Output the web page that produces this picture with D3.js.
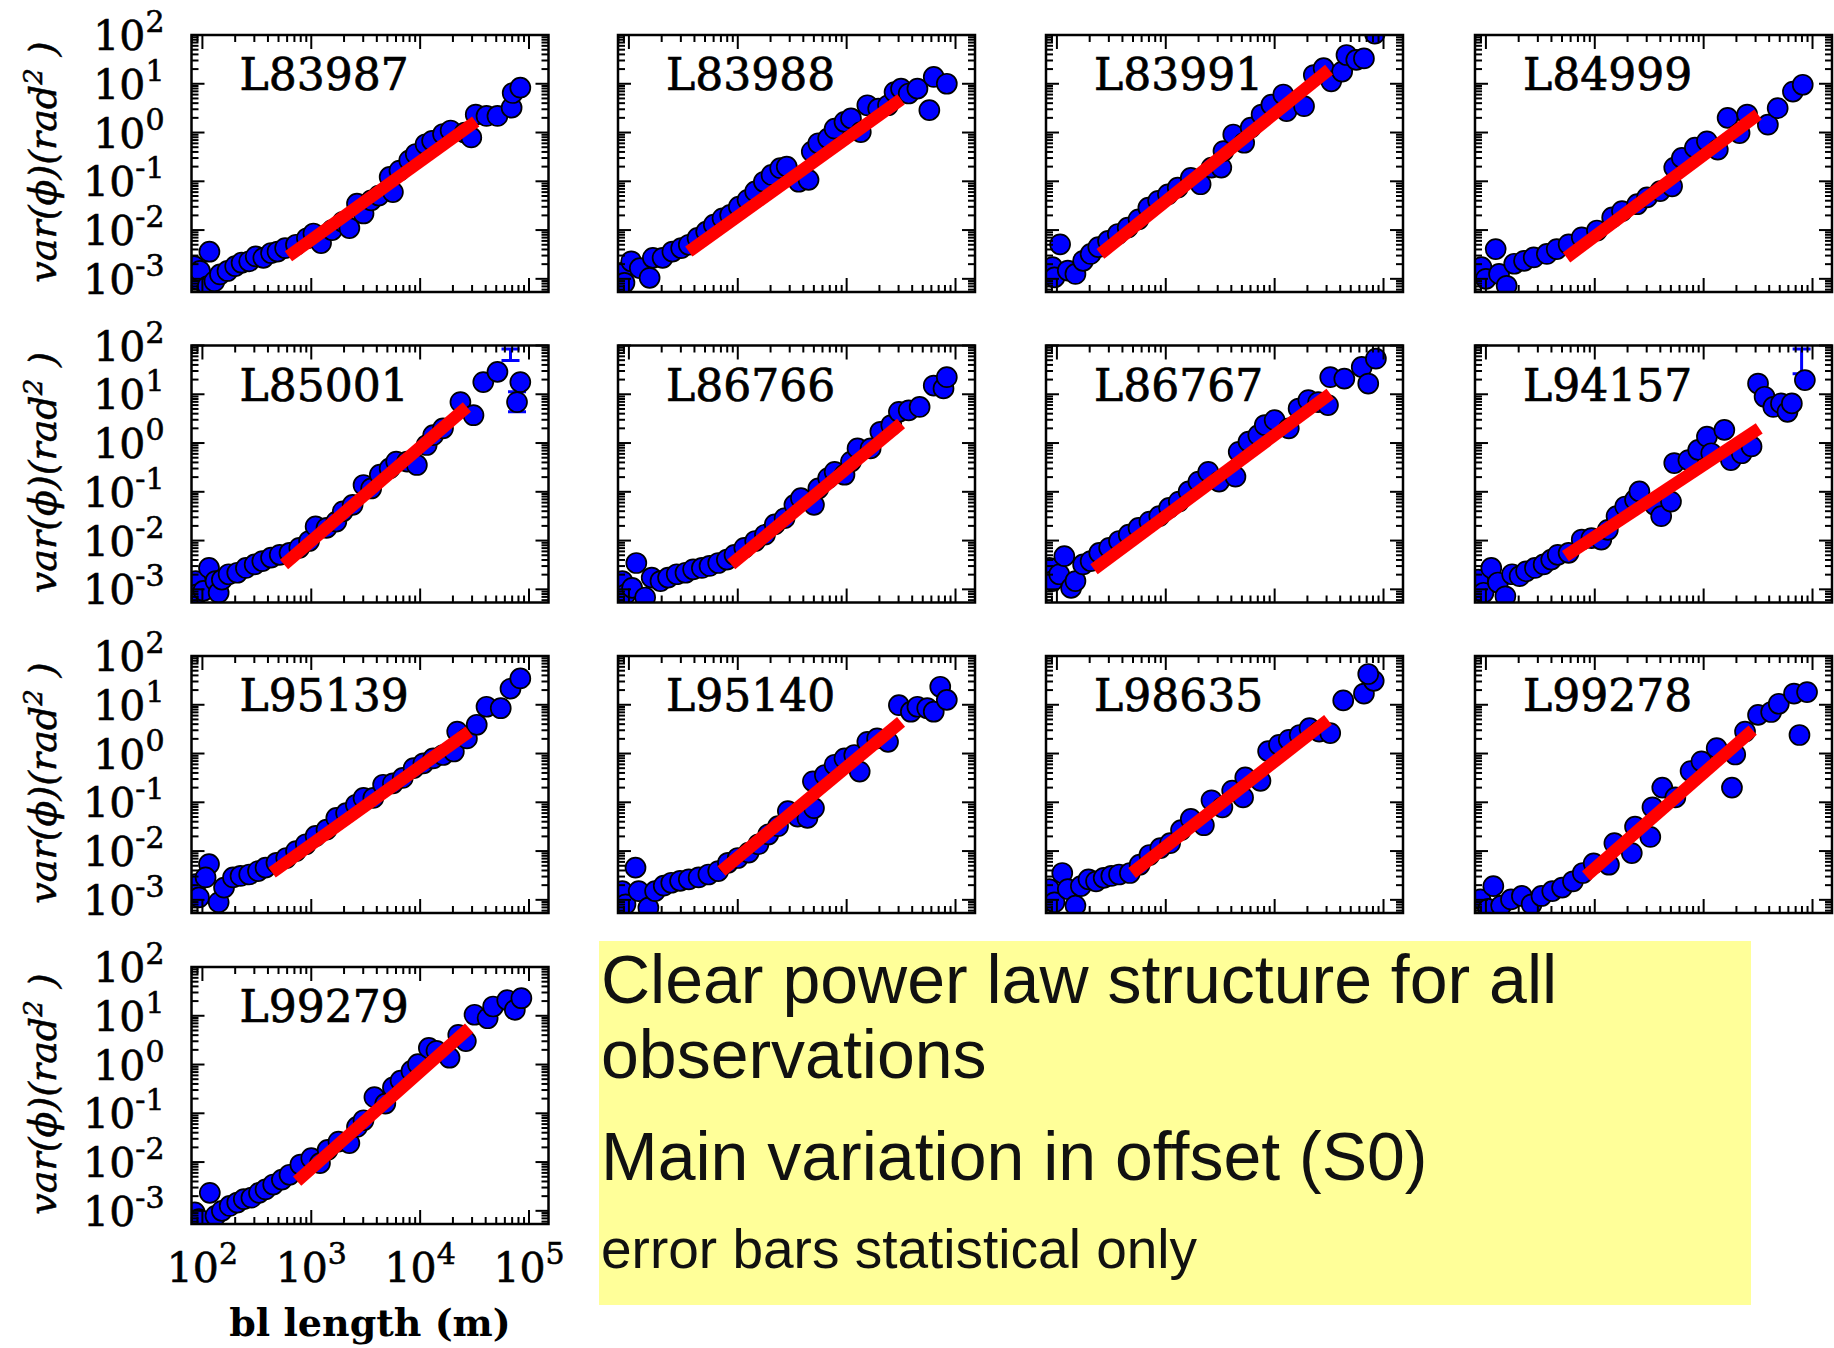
<!DOCTYPE html>
<html><head><meta charset="utf-8">
<script src="https://cdn.jsdelivr.net/npm/d3@7"></script>
<style>html,body{margin:0;padding:0;background:#fff;} svg{display:block}</style>
</head><body>
<svg id="c" width="1834" height="1348"></svg>
<script>
// ---------------- DATA ----------------
const panelNames = ["L83987","L83988","L83991","L84999","L85001","L86766","L86767","L94157","L95139","L95140","L98635","L99278","L99279"];

const pts_L83987 = [[84,1.82e-3],[89,9.8e-4],[95,1.45e-3],[116,3.6e-3],[112,7.1e-4],[129,8.9e-4],[145,1.23e-3],[170,1.45e-3],[200,1.82e-3],[229,2.14e-3],[269,2.29e-3],[309,2.88e-3],[363,2.69e-3],[427,3.39e-3],[490,3.63e-3],[575,4.27e-3],[724,5.0e-3],[912,6.8e-3],[1047,8.5e-3],[1230,5.4e-3],[1549,1.0e-2],[1950,1.48e-2],[2239,1.1e-2],[2630,3.47e-2],[3020,2.19e-2],[3548,4.07e-2],[4169,5.1e-2],[5248,0.123],[5623,6.0e-2],[6457,0.166],[7943,0.269],[9120,0.363],[11220,0.575],[12880,0.676],[16220,0.933],[19050,1.10],[25700,1.0],[29500,0.794],[32400,2.34],[40700,2.19],[51300,2.19],[69200,3.24],[70800,6.46],[83200,8.32]];
const pts_L83988 = [[85,1.32e-3],[91,8.3e-4],[105,2.29e-3],[126,1.66e-3],[155,1.05e-3],[166,2.69e-3],[204,2.69e-3],[251,3.63e-3],[302,4.27e-3],[355,5.0e-3],[427,6.9e-3],[513,9.3e-3],[603,1.29e-2],[724,1.74e-2],[851,2.04e-2],[1023,3.02e-2],[1230,4.17e-2],[1445,6.2e-2],[1738,9.8e-2],[2042,0.135],[2455,0.186],[2818,0.200],[3631,9.8e-2],[4467,0.107],[4786,0.407],[5495,0.603],[6761,0.759],[7762,1.20],[9550,1.66],[10960,1.95],[13490,1.02],[15490,3.63],[19500,3.09],[24000,3.63],[27540,6.76],[31600,7.94],[37150,6.31],[44700,7.94],[57500,2.88],[63100,13.8],[83200,10.0]];
const pts_L83991 = [[91,1.74e-3],[107,5.1e-3],[95,1.07e-3],[126,1.48e-3],[148,1.26e-3],[174,2.34e-3],[204,3.24e-3],[240,4.47e-3],[295,6.0e-3],[363,8.3e-3],[447,1.12e-2],[562,1.66e-2],[692,2.88e-2],[851,3.98e-2],[1047,5.4e-2],[1288,7.4e-2],[1698,0.117],[2089,8.7e-2],[2630,0.191],[3236,0.191],[3388,0.417],[4169,0.912],[5248,0.617],[6026,1.26],[7586,2.34],[9333,3.72],[12020,6.03],[12880,2.75],[18620,3.47],[22900,15.1],[28180,20.9],[33100,11.2],[41700,17.8],[45700,38.9],[56200,30.9],[66100,33.1],[83200,107]];
const pts_L84999 = [[91,1.74e-3],[100,1.0e-3],[123,4.07e-3],[132,1.26e-3],[155,7.2e-4],[182,2.04e-3],[224,2.34e-3],[275,2.75e-3],[363,3.24e-3],[447,4.07e-3],[575,5.1e-3],[759,7.1e-3],[1047,9.8e-3],[1445,1.82e-2],[1778,2.45e-2],[2455,3.39e-2],[3020,4.68e-2],[3981,6.3e-2],[5129,7.9e-2],[5370,0.191],[6310,0.302],[8318,0.490],[10720,0.661],[13490,0.447],[16600,2.0],[21380,0.977],[25100,2.34],[38900,1.45],[47860,3.16],[66100,6.92],[81300,9.55]];
const pts_L85001 = [[87,1.48e-3],[89,7.9e-4],[102,9.3e-4],[115,2.75e-3],[132,1.48e-3],[141,8.5e-4],[151,1.58e-3],[174,2.04e-3],[209,2.19e-3],[251,2.75e-3],[302,3.24e-3],[355,3.8e-3],[427,4.47e-3],[513,5.1e-3],[631,5.6e-3],[776,7.1e-3],[955,9.8e-3],[1096,1.95e-2],[1380,1.82e-2],[1698,2.45e-2],[1950,3.98e-2],[2399,5.4e-2],[3020,0.138],[3548,0.117],[4266,0.224],[5248,0.302],[6026,0.417],[7586,0.417],[9333,0.355],[11480,0.912],[13180,1.45],[16220,2.0],[23440,6.92],[30900,3.72],[38000,17.8],[51300,28.8],[83200,17.8],[77600,6.92]];
const pts_L86766 = [[87,1.48e-3],[93,7.9e-4],[117,3.47e-3],[107,1.07e-3],[141,6.8e-4],[162,1.74e-3],[195,1.48e-3],[229,1.74e-3],[275,2.04e-3],[331,2.19e-3],[389,2.57e-3],[468,2.75e-3],[550,3.02e-3],[661,3.47e-3],[794,4.07e-3],[933,5.1e-3],[1148,7.1e-3],[1445,9.8e-3],[1778,1.32e-2],[2188,2.14e-2],[2692,2.88e-2],[3311,5.4e-2],[3802,7.4e-2],[5012,5.4e-2],[5495,0.117],[6761,0.191],[7762,0.257],[9550,0.224],[10960,0.417],[12590,0.776],[16600,0.776],[20400,1.70],[25700,2.34],[30200,4.37],[37150,4.68],[46800,5.5],[63100,15.1],[77600,13.2],[83200,22.4]];
const pts_L86767 = [[85,2.75e-3],[91,1.48e-3],[105,2.04e-3],[117,4.79e-3],[135,1.07e-3],[148,1.48e-3],[174,3.24e-3],[204,3.8e-3],[245,5.6e-3],[302,7.1e-3],[372,9.8e-3],[457,1.32e-2],[562,1.82e-2],[708,2.45e-2],[871,3.16e-2],[1072,4.68e-2],[1318,6.3e-2],[1622,0.102],[1995,0.162],[2455,0.257],[3090,0.162],[4365,0.204],[4677,0.661],[5754,1.07],[7079,1.45],[8128,2.34],[10000,2.95],[13490,2.0],[16600,5.1],[20400,7.6],[25100,6.9],[30900,6.0],[32400,22.4],[43650,20.9],[63100,36.3],[72400,16.6],[85100,53.7]];
const pts_L94157 = [[85,1.58e-3],[95,8.5e-4],[112,2.75e-3],[129,1.38e-3],[151,7.2e-4],[174,2.04e-3],[204,1.86e-3],[234,2.34e-3],[282,2.75e-3],[339,3.24e-3],[398,4.07e-3],[457,5.1e-3],[575,5.6e-3],[759,1.05e-2],[933,1.12e-2],[1148,1.05e-2],[1318,1.66e-2],[1585,3.16e-2],[1905,5.0e-2],[2344,6.9e-2],[2570,0.102],[3548,5.4e-2],[4074,3.16e-2],[5012,6.3e-2],[5370,0.389],[7244,0.447],[8913,0.724],[10720,1.35],[11750,0.617],[15490,1.86],[17780,0.447],[22390,0.617],[27540,0.851],[31600,16.6],[36300,8.9],[43650,5.5],[51300,6.5],[58900,4.37],[64600,6.5],[85100,19.5]];
const pts_L95139 = [[87,2.09e-3],[93,1.12e-3],[115,5.4e-3],[107,2.88e-3],[141,8.9e-4],[158,1.78e-3],[191,2.88e-3],[224,3.09e-3],[269,3.31e-3],[324,3.89e-3],[380,4.57e-3],[479,5.75e-3],[589,7.2e-3],[724,1.0e-2],[891,1.38e-2],[1096,2.04e-2],[1380,2.75e-2],[1698,4.79e-2],[2089,6.0e-2],[2570,8.9e-2],[3020,0.123],[3715,0.123],[4571,0.229],[5623,0.245],[6918,0.316],[8710,0.501],[10720,0.631],[13180,0.794],[16220,0.933],[20400,1.10],[21900,2.82],[26900,2.04],[33100,3.89],[40700,9.1],[55000,8.5],[67600,21.4],[83200,34.7]];
const pts_L95140 = [[87,1.51e-3],[93,8.1e-4],[115,4.57e-3],[123,1.51e-3],[151,6.9e-4],[174,1.51e-3],[209,1.95e-3],[245,2.24e-3],[295,2.45e-3],[355,2.63e-3],[437,2.88e-3],[537,3.31e-3],[661,3.89e-3],[813,5.75e-3],[1000,7.2e-3],[1259,9.3e-3],[1549,1.38e-2],[1905,2.19e-2],[2344,3.24e-2],[2884,6.6e-2],[3548,5.1e-2],[4365,4.79e-2],[5012,7.6e-2],[4900,0.269],[6310,0.363],[7762,0.589],[9550,0.794],[11750,0.933],[13180,0.427],[15490,1.74],[19050,2.04],[24000,1.74],[30200,9.8],[38900,7.2],[44700,9.1],[55000,8.5],[63100,7.2],[72400,23.4],[83200,12.6]];
const pts_L98635 = [[85,1.66e-3],[95,8.9e-4],[112,3.55e-3],[126,1.66e-3],[148,7.6e-4],[166,1.91e-3],[195,2.63e-3],[229,2.4e-3],[269,2.82e-3],[316,3.09e-3],[372,3.31e-3],[468,3.55e-3],[575,5.25e-3],[708,8.3e-3],[891,1.15e-2],[1096,1.45e-2],[1380,2.69e-2],[1698,4.57e-2],[2239,3.39e-2],[2630,0.110],[3311,7.9e-2],[4074,0.174],[5129,0.126],[5370,0.324],[7413,0.275],[8710,1.12],[10960,1.51],[13490,1.91],[16980,2.4],[20900,3.31],[25700,2.82],[32400,2.63],[42660,12.3],[66100,17.0],[81300,30.9],[72400,42.7]];
const pts_L99278 = [[89,1.02e-3],[117,1.91e-3],[105,6.5e-4],[138,7.6e-4],[170,1.02e-3],[214,1.2e-3],[263,8.1e-4],[324,1.2e-3],[407,1.51e-3],[501,1.78e-3],[631,2.4e-3],[776,3.55e-3],[977,5.6e-3],[1349,5.25e-3],[1514,1.45e-2],[2188,9.1e-3],[2344,3.16e-2],[3236,1.95e-2],[3388,7.9e-2],[4169,0.200],[5495,0.126],[7586,0.437],[9550,0.692],[13180,1.29],[18200,0.200],[19500,0.955],[24000,2.82],[31600,6.2],[41700,7.1],[49000,10.5],[67600,17.0],[75900,2.4],[89100,18.2]];
const pts_L99279 = [[85,9.3e-4],[93,6.8e-4],[117,2.34e-3],[132,7.9e-4],[151,1.0e-3],[178,1.26e-3],[209,1.48e-3],[240,1.74e-3],[282,1.86e-3],[331,2.34e-3],[380,2.75e-3],[447,3.47e-3],[537,4.37e-3],[631,5.5e-3],[794,8.9e-3],[1000,1.2e-2],[1202,9.5e-3],[1413,1.78e-2],[1778,2.63e-2],[2239,2.45e-2],[2630,5.25e-2],[3020,7.2e-2],[3802,0.214],[4786,0.158],[5623,0.339],[6607,0.468],[8318,0.741],[9550,1.02],[12020,2.19],[14130,1.91],[18620,1.38],[22390,4.07],[26300,3.02],[31600,10.5],[41700,8.9],[46800,15.5],[63100,20.9],[74100,13.2],[85100,22.9]];

const panelPoints = [pts_L83987,pts_L83988,pts_L83991,pts_L84999,pts_L85001,pts_L86766,pts_L86767,pts_L94157,pts_L95139,pts_L95140,pts_L98635,pts_L99278,pts_L99279];

// power-law fit segments: bl length at both ends, and var at both ends
const fitX = [[617,32400],[355,31600],[251,31600],[550,31600],[562,26900],[871,31600],[219,32400],[537,32400],[437,28200],[708,31600],[490,30900],[832,28200],[741,28200]];
const fitY = [[2.9e-3,1.68],[3.63e-3,4.79],[3.24e-3,19.5],[2.75e-3,2.34],[3.24e-3,5.5],[3.24e-3,2.51],[2.57e-3,10.2],[4.79e-3,2.0],[3.63e-3,2.82],[3.89e-3,4.47],[3.55e-3,4.9],[3.09e-3,3.02],[4.07e-3,5.6]];

// visible error bars: panel, bl length, low, high
const errBars = [["L85001",67600,49,85],["L85001",77600,4.37,11.2],["L94157",79400,26.3,85]];

const xDomain = [79.4, 151000];
const yDomain = [5.37e-4, 100];
const yTickExps = ["2","1","0","-1","-2","-3"];
const xTickExps = ["2","3","4","5"];
const notes = ["Clear power law structure for all","observations","Main variation in offset (S0)","error bars statistical only"];

// ---------------- DRAW ----------------
const svg = d3.select('#c');
const colLeft = [191.5, 618, 1046, 1475], rowTop = [35, 345.5, 656, 967];
const W = 357, H = 257;
const serif = "'DejaVu Serif', serif";
const defs = svg.append('defs');

panelNames.forEach((name, i) => {
  const r = Math.floor(i / 4), c = i % 4;
  const x0 = colLeft[c], y0 = rowTop[r];
  const x = d3.scaleLog().domain(xDomain).range([x0, x0 + W]);
  const y = d3.scaleLog().domain(yDomain).range([y0 + H, y0]);
  const g = svg.append('g');
  const cid = 'clip' + i;
  defs.append('clipPath').attr('id', cid).append('rect')
    .attr('x', x0).attr('y', y0).attr('width', W).attr('height', H);
  const pg = g.append('g').attr('clip-path', `url(#${cid})`);

  errBars.filter(e => e[0] === name).forEach(e => {
    const ex = x(e[1]);
    pg.append('line').attr('x1', ex).attr('x2', ex).attr('y1', y(e[2])).attr('y2', y(e[3]))
      .attr('stroke', '#0000ff').attr('stroke-width', 3);
    [e[2], e[3]].forEach(v => pg.append('line').attr('x1', ex - 9).attr('x2', ex + 9)
      .attr('y1', y(v)).attr('y2', y(v)).attr('stroke', '#0000ff').attr('stroke-width', 3));
  });

  pg.selectAll('circle.pt').data(panelPoints[i]).join('circle').attr('class', 'pt')
    .attr('cx', d => x(d[0])).attr('cy', d => y(d[1])).attr('r', 10)
    .attr('fill', '#0000ff').attr('stroke', '#000').attr('stroke-width', 1.7);

  pg.append('line')
    .attr('x1', x(fitX[i][0])).attr('y1', y(fitY[i][0]))
    .attr('x2', x(fitX[i][1])).attr('y2', y(fitY[i][1]))
    .attr('stroke', '#ff0000').attr('stroke-width', 12.5);

  // ticks on all four sides, pointing inward
  const isMajor = v => Math.abs(Math.log10(v) - Math.round(Math.log10(v))) < 1e-9;
  const tg = g.append('g').attr('stroke', '#000').attr('stroke-width', 2);
  x.ticks().forEach(v => {
    const L = isMajor(v) ? 14 : 7, px = x(v);
    tg.append('line').attr('x1', px).attr('x2', px).attr('y1', y0 + H).attr('y2', y0 + H - L);
    tg.append('line').attr('x1', px).attr('x2', px).attr('y1', y0).attr('y2', y0 + L);
  });
  y.ticks().forEach(v => {
    const L = isMajor(v) ? 13 : 7, py = y(v);
    tg.append('line').attr('x1', x0).attr('x2', x0 + L).attr('y1', py).attr('y2', py);
    tg.append('line').attr('x1', x0 + W).attr('x2', x0 + W - L).attr('y1', py).attr('y2', py);
  });

  g.append('rect').attr('x', x0).attr('y', y0).attr('width', W).attr('height', H)
    .attr('fill', 'none').attr('stroke', '#000').attr('stroke-width', 2.5);

  g.append('text').attr('x', x0 + 48).attr('y', y0 + 55)
    .attr('font-family', serif).attr('font-size', 44).attr('fill', '#000')
    .attr('stroke', '#000').attr('stroke-width', 0.7).text(name);

  if (c === 0) {
    yTickExps.forEach(e => {
      const t = g.append('text').attr('x', x0 - 27).attr('y', y(Math.pow(10, +e)) + 15)
        .attr('text-anchor', 'end').attr('font-family', serif).attr('font-size', 41).attr('fill', '#000')
        .attr('stroke', '#000').attr('stroke-width', 0.6);
      t.append('tspan').text('10');
      t.append('tspan').attr('dy', -18).attr('font-size', 30).text(e);
    });
    const yt = g.append('text').attr('transform', `translate(56,${y0 + 127}) rotate(-90)`)
      .attr('text-anchor', 'middle').attr('font-family', serif).attr('font-style', 'italic')
      .attr('font-size', 38).attr('fill', '#000').attr('stroke', '#000').attr('stroke-width', 0.5);
    yt.append('tspan').text('var(ϕ)(rad');
    yt.append('tspan').attr('dy', -14).attr('font-size', 26).text('2');
    yt.append('tspan').attr('dy', 14).text(' )');
  }
  if (i === 12) {
    xTickExps.forEach(e => {
      const t = g.append('text').attr('x', x(Math.pow(10, +e))).attr('y', y0 + H + 58)
        .attr('text-anchor', 'middle').attr('font-family', serif).attr('font-size', 41).attr('fill', '#000')
        .attr('stroke', '#000').attr('stroke-width', 0.6);
      t.append('tspan').text('10');
      t.append('tspan').attr('dy', -18).attr('font-size', 30).text(e);
    });
    g.append('text').attr('x', x0 + W / 2).attr('y', y0 + H + 112)
      .attr('text-anchor', 'middle').attr('font-family', serif).attr('font-weight', 'bold')
      .attr('font-size', 38).attr('fill', '#000').text('bl length (m)');
  }
});

// note box
svg.append('rect').attr('x', 599).attr('y', 941).attr('width', 1152).attr('height', 364).attr('fill', '#ffff99');
const noteY = [1003, 1078, 1180, 1268], noteSize = [68, 68, 68, 55];
notes.forEach((s, k) => {
  svg.append('text').attr('x', 601).attr('y', noteY[k])
    .attr('font-family', "'Liberation Sans', Arial, sans-serif").attr('font-size', noteSize[k])
    .attr('fill', '#111').text(s);
});
</script>
</body></html>
